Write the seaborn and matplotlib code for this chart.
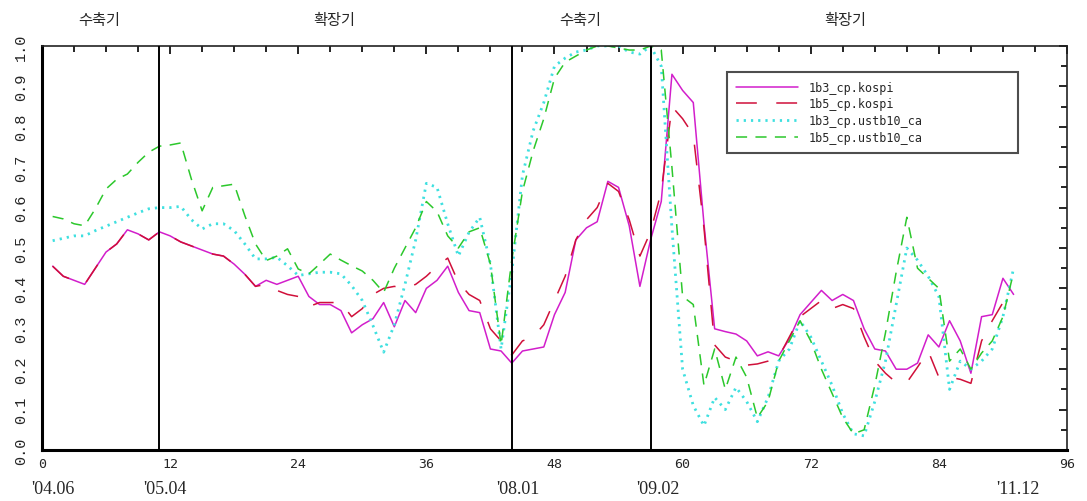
import numpy as np
import pandas as pd
import matplotlib
matplotlib.use("Agg")
import matplotlib.pyplot as plt
from matplotlib.ticker import MultipleLocator
import seaborn as sns

# ---- data ----
months = list(range(1, 92))

kospi_1b3 = [0.455, 0.43, 0.42, 0.41, 0.45, 0.49, 0.51, 0.545, 0.535, 0.52,
             0.54, 0.53, 0.515, 0.505, 0.495, 0.485, 0.48, 0.46, 0.435, 0.405,
             0.42, 0.41, 0.42, 0.43, 0.38, 0.36, 0.36, 0.345, 0.29, 0.31,
             0.325, 0.365, 0.305, 0.37, 0.34, 0.40, 0.42, 0.455, 0.39, 0.345,
             0.34, 0.25, 0.245, 0.215, 0.245, 0.25, 0.255, 0.335, 0.39, 0.52,
             0.55, 0.565, 0.665, 0.65, 0.555, 0.405, 0.52, 0.615, 0.93, 0.89,
             0.86, 0.56, 0.30, 0.293, 0.287, 0.27, 0.233, 0.243, 0.233, 0.275,
             0.335, 0.365, 0.395, 0.37, 0.385, 0.37, 0.30, 0.25, 0.245, 0.20,
             0.20, 0.215, 0.285, 0.255, 0.32, 0.27, 0.19, 0.33, 0.335, 0.425,
             0.385]

kospi_1b5 = [0.455, 0.43, 0.42, 0.41, 0.45, 0.49, 0.51, 0.545, 0.535, 0.52,
             0.54, 0.53, 0.515, 0.505, 0.495, 0.485, 0.48, 0.46, 0.435, 0.405,
             0.41, 0.395, 0.385, 0.38, 0.355, 0.365, 0.365, 0.365, 0.33, 0.35,
             0.385, 0.40, 0.405, 0.40, 0.41, 0.43, 0.455, 0.475, 0.415, 0.385,
             0.37, 0.30, 0.27, 0.235, 0.27, 0.28, 0.31, 0.37, 0.43, 0.52,
             0.57, 0.60, 0.66, 0.64, 0.57, 0.48, 0.54, 0.64, 0.85, 0.82,
             0.78, 0.55, 0.26, 0.23, 0.22, 0.21, 0.213, 0.22, 0.23, 0.28,
             0.33, 0.35, 0.37, 0.35, 0.36, 0.35, 0.28, 0.22, 0.19, 0.167,
             0.167, 0.205, 0.245, 0.18, 0.18, 0.175, 0.165, 0.27, 0.32, 0.365,
             0.39]

ustb_1b3 = [0.518, 0.524, 0.53, 0.53, 0.543, 0.554, 0.565, 0.576, 0.587, 0.597,
            0.60, 0.60, 0.603, 0.57, 0.547, 0.56, 0.56, 0.543, 0.51, 0.473,
            0.473, 0.477, 0.456, 0.432, 0.436, 0.44, 0.44, 0.436, 0.407, 0.37,
            0.308, 0.242, 0.31, 0.41, 0.52, 0.66, 0.65, 0.56, 0.48, 0.539,
            0.576, 0.46, 0.25, 0.44, 0.68, 0.79, 0.86, 0.95, 0.97, 0.985,
            0.99, 1.0, 1.0, 1.0, 0.985, 0.98, 1.0, 0.95, 0.55, 0.20,
            0.11, 0.06, 0.13, 0.10, 0.155, 0.12, 0.07, 0.13, 0.22, 0.25,
            0.32, 0.28, 0.22, 0.16, 0.09, 0.04, 0.035, 0.12, 0.22, 0.36,
            0.50, 0.47, 0.43, 0.38, 0.15, 0.22, 0.20, 0.22, 0.25, 0.33,
            0.45]

ustb_1b5 = [0.578, 0.572, 0.56, 0.555, 0.597, 0.646, 0.67, 0.683, 0.712, 0.737,
            0.752, 0.755, 0.76, 0.67, 0.592, 0.65, 0.654, 0.658, 0.58, 0.51,
            0.469, 0.48, 0.498, 0.448, 0.436, 0.46, 0.485, 0.47, 0.456, 0.443,
            0.42, 0.39, 0.45, 0.50, 0.55, 0.615, 0.59, 0.53, 0.50, 0.54,
            0.55, 0.46, 0.26, 0.47, 0.64, 0.74, 0.82, 0.92, 0.96, 0.975,
            0.99, 1.0, 1.0, 0.995, 0.99, 0.99, 1.0, 0.99, 0.70, 0.38,
            0.36, 0.16, 0.25, 0.15, 0.23, 0.18, 0.08, 0.12, 0.22, 0.27,
            0.32, 0.27, 0.20, 0.14, 0.08, 0.04, 0.05, 0.16, 0.29, 0.44,
            0.576, 0.45, 0.425, 0.40, 0.22, 0.25, 0.20, 0.24, 0.27, 0.33,
            0.44]

series_names = ["1b3_cp.kospi", "1b5_cp.kospi", "1b3_cp.ustb10_ca", "1b5_cp.ustb10_ca"]
series_values = [kospi_1b3, kospi_1b5, ustb_1b3, ustb_1b5]

phase_breaks = [11, 44, 57]
phase_labels = ["수축기", "확장기", "수축기", "확장기"]
phase_label_x = [5.4, 27.4, 50.4, 75.2]
date_labels = ["'04.06", "'05.04", "'08.01", "'09.02", "'11.12"]
date_label_x = [1, 11.5, 44.6, 57.7, 91.4]

xticks = [0, 12, 24, 36, 48, 60, 72, 84, 96]
yticks = [0.0, 0.1, 0.2, 0.3, 0.4, 0.5, 0.6, 0.7, 0.8, 0.9, 1.0]

# ---- styles ----
colors = ["#d21ecb", "#d0103a", "#3fe0e0", "#2cc82c"]
styles = ["-", (0, (15, 14)), (0, (1.6, 3.6)), (0, (8, 6))]
widths = [1.1, 1.1, 2.0, 1.1]

sns.set_style("white")
plt.rcParams["font.family"] = ["DejaVu Sans", "Noto Sans CJK KR"]
plt.rcParams["lines.scale_dashes"] = False

df = pd.DataFrame({"month": months * 4,
                   "value": sum(series_values, []),
                   "series": sum([[n] * len(months) for n in series_names], [])})

fig = plt.figure(figsize=(10.87, 5.02), dpi=100)
ax = fig.add_axes([0.0386, 0.1016, 0.9430, 0.8048])

for name, c, ls, lw in zip(series_names, colors, styles, widths):
    sub = df[df["series"] == name]
    sns.lineplot(data=sub, x="month", y="value", ax=ax, color=c,
                 linestyle=ls, linewidth=lw, label=name)

for b in phase_breaks:
    ax.axvline(b, color="black", linewidth=1.4, zorder=5)

ax.set_xlim(0, 96)
ax.set_ylim(0, 1.0)
ax.set_xticks(xticks)
ax.set_yticks(yticks)
ax.set_xticklabels([str(t) for t in xticks], family="DejaVu Sans Mono", fontsize=9.5)
ax.set_yticklabels([f"{t:.1f}" for t in yticks], family="Liberation Mono",
                   fontsize=11, rotation=90, va="center")
ax.xaxis.set_minor_locator(MultipleLocator(3))
ax.yaxis.set_minor_locator(MultipleLocator(0.05))
ax.tick_params(axis="both", which="both", direction="in", top=True, right=True,
               color="black", width=1.2)
ax.tick_params(axis="both", which="major", length=6)
ax.tick_params(axis="both", which="minor", length=4)
ax.tick_params(axis="y", which="major", pad=10)
ax.tick_params(axis="x", which="major", pad=5)
ax.set_xlabel("")
ax.set_ylabel("")

for side in ["left", "bottom"]:
    ax.spines[side].set_linewidth(2.2)
    ax.spines[side].set_color("black")
for side in ["top", "right"]:
    ax.spines[side].set_linewidth(1.2)
    ax.spines[side].set_color("#222222")

for lab, xl in zip(phase_labels, phase_label_x):
    ax.text(xl, 1.065, lab, transform=ax.get_xaxis_transform(), ha="center",
            va="center", fontsize=11, family=["Noto Sans CJK KR", "DejaVu Sans"])

for lab, xl in zip(date_labels, date_label_x):
    ax.text(xl, -0.095, lab, transform=ax.get_xaxis_transform(), ha="center",
            va="center", fontsize=13, family="Liberation Serif")

leg = ax.legend(loc="upper left", bbox_to_anchor=(0.668, 0.762, 0.284, 0.174),
                mode="expand", frameon=True, fancybox=False, shadow=False,
                prop={"family": "DejaVu Sans Mono", "size": 8.5},
                handlelength=5.3, labelspacing=0.32, borderpad=0.75,
                handletextpad=0.9, borderaxespad=0.0)
leg.get_frame().set_edgecolor("#222222")
leg.get_frame().set_linewidth(1.5)

fig.savefig("out.png", dpi=100, facecolor="white")
